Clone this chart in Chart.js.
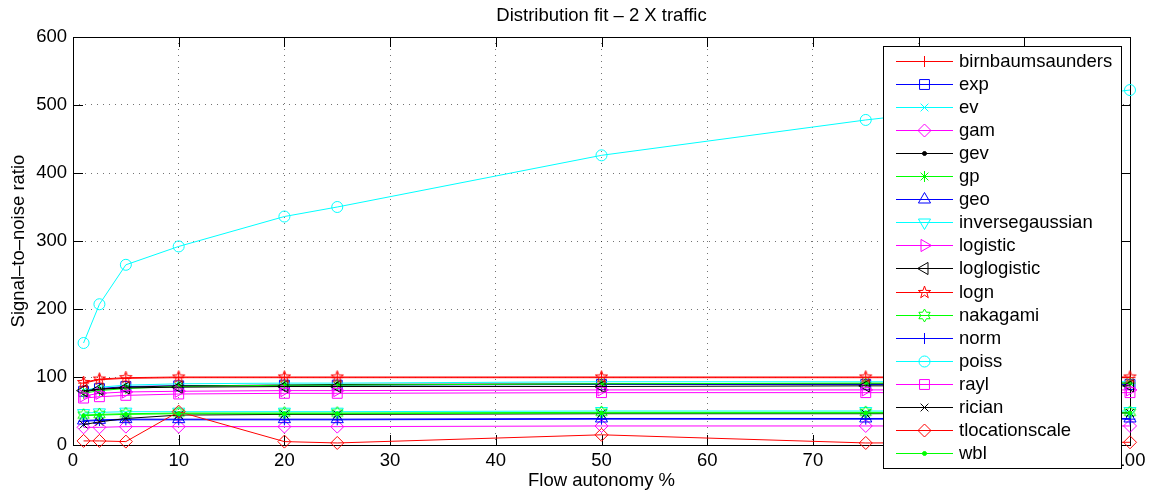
<!DOCTYPE html>
<html>
<head>
<meta charset="utf-8">
<script src="https://cdn.jsdelivr.net/npm/chart.js@4"></script>
<style>
  html, body { margin: 0; padding: 0; background: #fff; }
  #wrap { width: 1155px; height: 495px; }
</style>
</head>
<body>
<div id="wrap"><canvas id="fitChart" width="1155" height="495"></canvas></div>
<script>
// traffic share in % (x axis)
const flowAutonomy = [1, 2.5, 5, 10, 20, 25, 50, 75, 100];
const xTicks = [0, 10, 20, 30, 40, 50, 60, 70, 80, 90, 100];
const yTicks = [0, 100, 200, 300, 400, 500, 600];

// distributions, same order as the legend
const distNames = ['birnbaumsaunders', 'exp', 'ev', 'gam', 'gev', 'gp', 'geo', 'inversegaussian',
  'logistic', 'loglogistic', 'logn', 'nakagami', 'norm', 'poiss', 'rayl', 'rician', 'tlocationscale', 'wbl'];

// signal-to-noise ratio per distribution
const birnbaumsaunders = [91, 96, 98, 99, 99, 99, 99, 99, 99];
const exp = [79, 83, 86, 87, 88, 88, 89, 89, 89];
const ev = [80, 85, 88, 90, 91, 91, 93, 93, 93];
const gam = [26, 26, 27, 27, 27, 27, 28, 28, 28];
const gev = [78, 82, 85, 87, 88, 89, 90, 90, 91];
const gp = [76, 80, 83, 86, 88, 88, 90, 91, 91];
const geo = [36, 37, 38, 38, 38, 38, 39, 39, 39];
const inversegaussian = [47, 48, 49, 49, 49, 49, 50, 50, 50];
const logistic = [72, 76, 78, 79, 80, 80, 81, 81, 81];
const loglogistic = [80, 82, 84, 85, 86, 86, 86, 87, 87];
const logn = [92, 97, 99, 100, 100, 100, 100, 100, 100];
const nakagami = [44, 45, 46, 47, 47, 47, 48, 48, 48];
const norm = [35, 36, 37, 37, 37, 37, 38, 38, 38];
const poiss = [150, 207, 265, 292, 336, 350, 426, 478, 522];
const rayl = [69, 71, 73, 75, 76, 76, 77, 77, 77];
const rician = [30, 34, 39, 44, 45, 45, 46, 46, 47];
const tlocationscale = [6, 6, 5, 49, 5, 3, 15, 3, 4];
const wbl = [43, 44, 45, 46, 46, 46, 47, 47, 47];

const seriesValues = [birnbaumsaunders, exp, ev, gam, gev, gp, geo, inversegaussian,
  logistic, loglogistic, logn, nakagami, norm, poiss, rayl, rician, tlocationscale, wbl];

const FONT = '"Liberation Sans", Arial, Helvetica, sans-serif';
const FONT_SIZE = 18.5;

// star shaped markers (pentagram / hexagram) drawn on small canvases
function makeStar(color, points, outerR, innerR) {
  const size = Math.ceil(outerR * 2 + 4);
  const c = document.createElement('canvas');
  c.width = size; c.height = size;
  const g = c.getContext('2d');
  g.strokeStyle = color;
  g.lineWidth = 1;
  g.beginPath();
  for (let i = 0; i < points * 2; i++) {
    const r = i % 2 === 0 ? outerR : innerR;
    const a = -Math.PI / 2 + i * Math.PI / points;
    const px = size / 2 + r * Math.cos(a);
    const py = size / 2 + r * Math.sin(a);
    if (i === 0) g.moveTo(px, py); else g.lineTo(px, py);
  }
  g.closePath();
  g.stroke();
  return c;
}

// matlab-like colour/marker cycle
const markerDefs = [
  { color: '#ff0000', style: 'cross', r: 5.5 },
  { color: '#0000ff', style: 'rect', r: 7 },
  { color: '#00ffff', style: 'crossRot', r: 5.5 },
  { color: '#ff00ff', style: 'rectRot', r: 6.5 },
  { color: '#000000', style: 'circle', r: 2, filled: true },
  { color: '#00ff00', style: 'star', r: 5.5 },
  { color: '#0000ff', style: 'triangle', r: 7 },
  { color: '#00ffff', style: 'triangle', r: 7, rot: 180 },
  { color: '#ff00ff', style: 'triangle', r: 7, rot: 90 },
  { color: '#000000', style: 'triangle', r: 7, rot: 270 },
  { color: '#ff0000', style: makeStar('#ff0000', 5, 6.5, 2.6), r: 6 },
  { color: '#00ff00', style: makeStar('#00ff00', 6, 6.5, 3.75), r: 6 },
  { color: '#0000ff', style: 'cross', r: 5.5 },
  { color: '#00ffff', style: 'circle', r: 5.5 },
  { color: '#ff00ff', style: 'rect', r: 7 },
  { color: '#000000', style: 'crossRot', r: 5.5 },
  { color: '#ff0000', style: 'rectRot', r: 6.5 },
  { color: '#00ff00', style: 'circle', r: 2, filled: true }
];

const datasets = distNames.map((name, i) => {
  const m = markerDefs[i];
  return {
    label: name,
    data: flowAutonomy.map((x, j) => ({ x: x, y: seriesValues[i][j] })),
    borderColor: m.color,
    borderWidth: 1,
    pointStyle: m.style,
    pointRadius: m.r,
    pointRotation: m.rot || 0,
    pointBorderColor: m.color,
    pointBorderWidth: 1,
    pointBackgroundColor: m.filled ? m.color : 'rgba(0,0,0,0)',
    tension: 0,
    fill: false,
    clip: false,
    order: distNames.length - i   // later series on top, like matlab
  };
});

// frame, inward ticks, title and axis labels
const axesFrame = {
  id: 'axesFrame',
  beforeDatasetsDraw(chart) {
    const { ctx, chartArea: a, scales } = chart;
    ctx.save();
    ctx.strokeStyle = '#000';
    ctx.lineWidth = 1;
    ctx.strokeRect(Math.round(a.left) + 0.5, Math.round(a.top) + 0.5,
      Math.round(a.right - a.left), Math.round(a.bottom - a.top));
    ctx.beginPath();
    xTicks.forEach(v => {
      const px = Math.round(scales.x.getPixelForValue(v)) + 0.5;
      ctx.moveTo(px, a.bottom); ctx.lineTo(px, a.bottom - 10);
      ctx.moveTo(px, a.top); ctx.lineTo(px, a.top + 10);
    });
    yTicks.forEach(v => {
      const py = Math.round(scales.y.getPixelForValue(v)) + 0.5;
      ctx.moveTo(a.left, py); ctx.lineTo(a.left + 10, py);
      ctx.moveTo(a.right, py); ctx.lineTo(a.right - 10, py);
    });
    ctx.stroke();
    ctx.restore();
  },
  afterDraw(chart) {
    const { ctx, chartArea: a } = chart;
    const cx = (a.left + a.right) / 2;
    ctx.save();
    ctx.fillStyle = '#000';
    ctx.font = FONT_SIZE + 'px ' + FONT;
    ctx.textAlign = 'center';
    ctx.textBaseline = 'middle';
    ctx.fillText('Distribution fit – 2 X traffic', cx, 16);
    ctx.fillText('Flow autonomy %', cx, 481);
    ctx.translate(19, (a.top + a.bottom) / 2);
    ctx.rotate(-Math.PI / 2);
    ctx.fillText('Signal–to–noise ratio', 0, 0);
    ctx.restore();
  }
};

// legend box inside the axes (north-east), matlab style
const boxLegend = {
  id: 'boxLegend',
  afterDraw(chart) {
    const ctx = chart.ctx;
    const left = 883, top = 46, right = 1121, bottom = 468;
    const rowStart = 60.7, rowStep = 23.08;
    ctx.save();
    ctx.fillStyle = '#fff';
    ctx.fillRect(left, top, right - left, bottom - top);
    ctx.strokeStyle = '#000';
    ctx.lineWidth = 1;
    ctx.strokeRect(left + 0.5, top + 0.5, right - left, bottom - top);
    chart.data.datasets.forEach((ds, i) => {
      const y = Math.round(rowStart + i * rowStep) + 0.5;
      ctx.strokeStyle = ds.borderColor;
      ctx.lineWidth = 1;
      ctx.beginPath();
      ctx.moveTo(896, y); ctx.lineTo(953, y);
      ctx.stroke();
      ctx.fillStyle = ds.pointBackgroundColor;
      Chart.helpers.drawPoint(ctx, {
        pointStyle: ds.pointStyle,
        radius: ds.pointRadius,
        rotation: ds.pointRotation,
        borderWidth: 1
      }, 924.5, y);
      ctx.fillStyle = '#000';
      ctx.font = FONT_SIZE + 'px ' + FONT;
      ctx.textAlign = 'left';
      ctx.textBaseline = 'middle';
      ctx.fillText(ds.label, 959, y);
    });
    ctx.restore();
  }
};

new Chart(document.getElementById('fitChart'), {
  type: 'line',
  data: { datasets: datasets },
  options: {
    responsive: false,
    animation: false,
    events: [],
    layout: { padding: { top: 37, right: 25, left: 0, bottom: 0 } },
    plugins: {
      legend: { display: false },
      title: { display: false },
      tooltip: { enabled: false }
    },
    scales: {
      x: {
        type: 'linear',
        min: 0,
        max: 100,
        afterFit(scale) { scale.height = 50; },
        afterBuildTicks(scale) { scale.ticks = xTicks.map(v => ({ value: v })); },
        ticks: {
          color: '#000',
          font: { family: FONT, size: FONT_SIZE },
          padding: 5,
          maxRotation: 0,
          autoSkip: false
        },
        grid: { color: 'rgba(0,0,0,0.55)', lineWidth: 1, drawTicks: false },
        border: { display: false, dash: [1, 5] }
      },
      y: {
        type: 'linear',
        min: 0,
        max: 600,
        afterFit(scale) { scale.width = 73; },
        afterBuildTicks(scale) { scale.ticks = yTicks.map(v => ({ value: v })); },
        ticks: {
          color: '#000',
          font: { family: FONT, size: FONT_SIZE },
          padding: 6
        },
        grid: { color: 'rgba(0,0,0,0.55)', lineWidth: 1, drawTicks: false },
        border: { display: false, dash: [1, 5] }
      }
    }
  },
  plugins: [axesFrame, boxLegend]
});
</script>
</body>
</html>
